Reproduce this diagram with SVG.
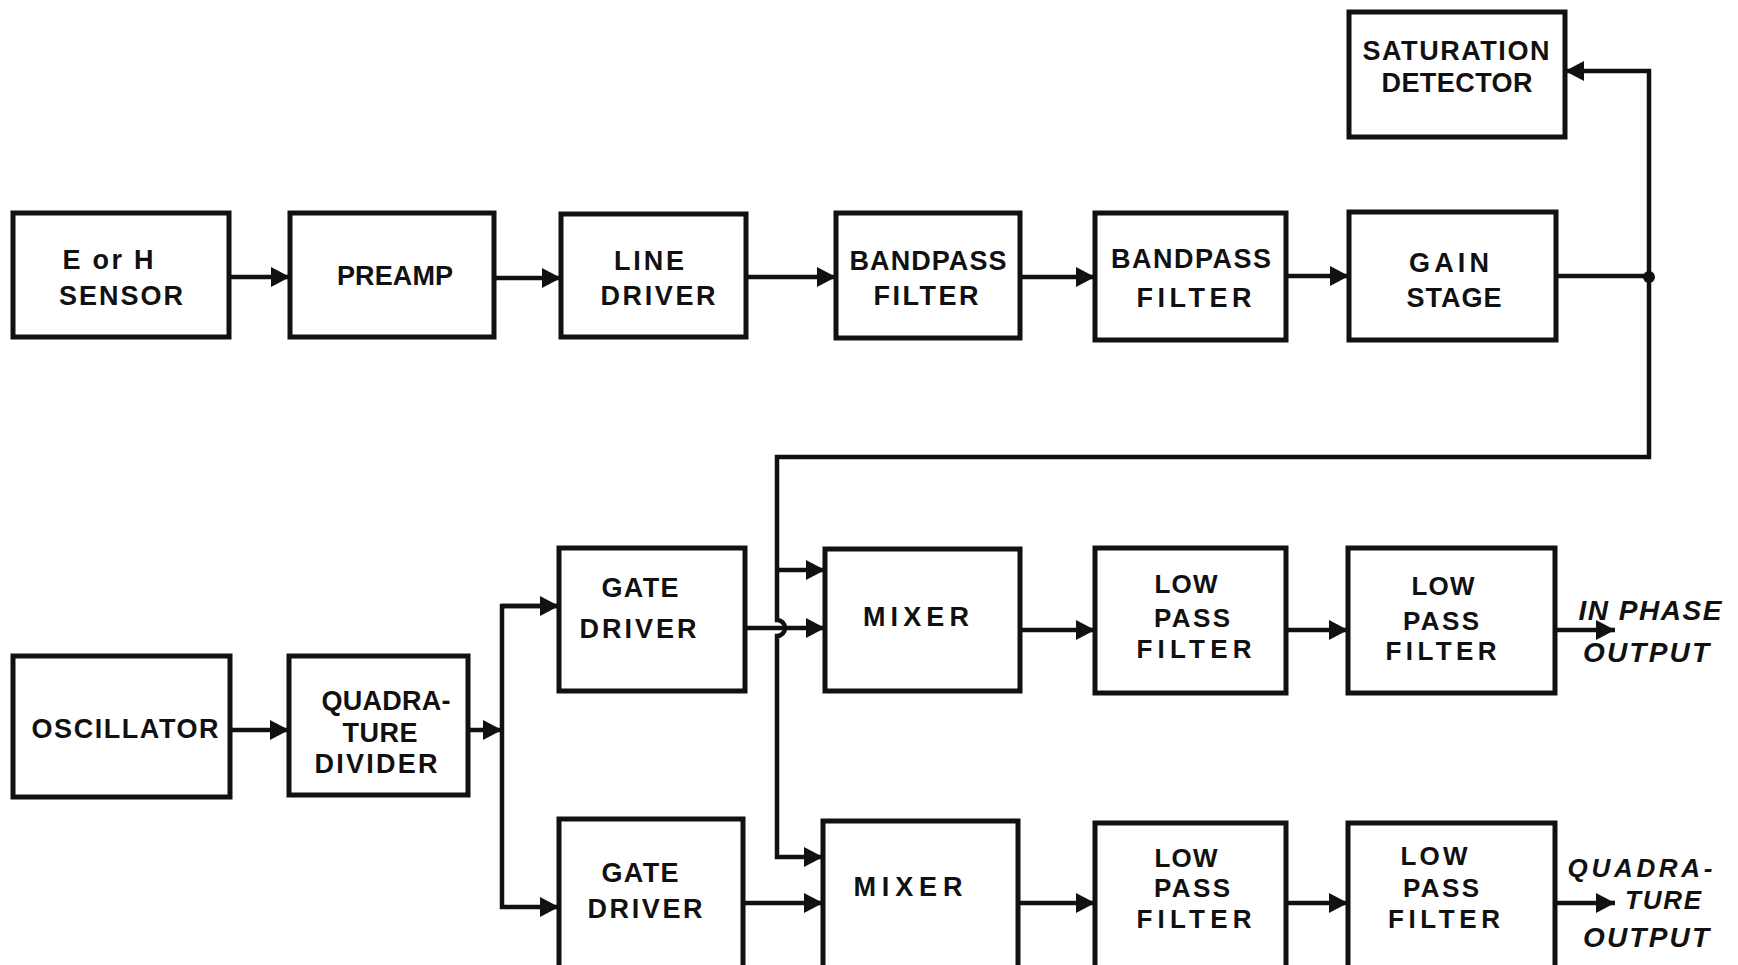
<svg xmlns="http://www.w3.org/2000/svg" width="1738" height="965" viewBox="0 0 1738 965">
<style>
.box{fill:#fff;stroke:#111;stroke-width:5}
.t{font-family:"Liberation Sans",Arial,sans-serif;font-weight:bold;font-size:27px;fill:#111;text-anchor:middle}
.s{font-size:26px}
.o{font-family:"Liberation Sans",Arial,sans-serif;font-weight:bold;font-style:italic;font-size:28px;fill:#111;text-anchor:middle}
.q{font-size:26px}
.w{fill:none;stroke:#111;stroke-width:4.5}
</style>
<defs>
<marker id="ah" markerUnits="userSpaceOnUse" markerWidth="21" markerHeight="21" refX="19" refY="10" orient="auto">
<path d="M0,0 L19,10 L0,20 z" fill="#111"/>
</marker>
</defs>
<rect width="1738" height="965" fill="#fff"/>
<g id="connectors">
<path class="w" d="M229,277 H290" marker-end="url(#ah)"/>
<path class="w" d="M494,278 H561" marker-end="url(#ah)"/>
<path class="w" d="M746,277 H836" marker-end="url(#ah)"/>
<path class="w" d="M1020,277 H1095" marker-end="url(#ah)"/>
<path class="w" d="M1286,276 H1349" marker-end="url(#ah)"/>
<path class="w" d="M1556,276 H1649"/>
<path class="w" d="M1649,277 V71 H1565" marker-end="url(#ah)"/>
<circle cx="1649" cy="277" r="6" fill="#111"/>
<path class="w" d="M1649,277 V457 H777 V620 A8,8 0 0 1 777,636 V857 H823" marker-end="url(#ah)"/>
<path class="w" d="M777,570 H825" marker-end="url(#ah)"/>
<path class="w" d="M745,628 H825" marker-end="url(#ah)"/>
<path class="w" d="M230,730 H289" marker-end="url(#ah)"/>
<path class="w" d="M468,730 H502" marker-end="url(#ah)"/>
<path class="w" d="M559,606 H502 V907 H559" marker-end="url(#ah)"/>
<path class="w" d="M502,606 H559" marker-end="url(#ah)"/>
<path class="w" d="M743,903 H823" marker-end="url(#ah)"/>
<path class="w" d="M1020,630 H1095" marker-end="url(#ah)"/>
<path class="w" d="M1286,630 H1348" marker-end="url(#ah)"/>
<path class="w" d="M1555,630 H1615" marker-end="url(#ah)"/>
<path class="w" d="M1018,903 H1095" marker-end="url(#ah)"/>
<path class="w" d="M1286,903 H1348" marker-end="url(#ah)"/>
<path class="w" d="M1555,903 H1615" marker-end="url(#ah)"/>
</g>
<g id="sensor"><rect class="box" x="13" y="213" width="216" height="124"/>
<text class="t" x="108" y="269" textLength="91" lengthAdjust="spacing">E or H</text>
<text class="t" x="121" y="305" textLength="124" lengthAdjust="spacing">SENSOR</text></g>
<g id="preamp"><rect class="box" x="290" y="213" width="204" height="124"/>
<text class="t" x="395" y="285" textLength="116" lengthAdjust="spacing">PREAMP</text></g>
<g id="line-driver"><rect class="box" x="561" y="214" width="185" height="123"/>
<text class="t" x="649" y="270" textLength="70" lengthAdjust="spacing">LINE</text>
<text class="t" x="658" y="305" textLength="115" lengthAdjust="spacing">DRIVER</text></g>
<g id="bandpass1"><rect class="box" x="836" y="213" width="184" height="125"/>
<text class="t" x="928" y="270" textLength="157" lengthAdjust="spacing">BANDPASS</text>
<text class="t" x="926" y="305" textLength="105" lengthAdjust="spacing">FILTER</text></g>
<g id="bandpass2"><rect class="box" x="1095" y="213" width="191" height="127"/>
<text class="t" x="1191" y="268" textLength="160" lengthAdjust="spacing">BANDPASS</text>
<text class="t" x="1194" y="307" textLength="115" lengthAdjust="spacing">FILTER</text></g>
<g id="gain-stage"><rect class="box" x="1349" y="212" width="207" height="128"/>
<text class="t" x="1449" y="272" textLength="80" lengthAdjust="spacing">GAIN</text>
<text class="t" x="1454" y="307" textLength="95" lengthAdjust="spacing">STAGE</text></g>
<g id="saturation-detector"><rect class="box" x="1349" y="12" width="216" height="125"/>
<text class="t" x="1456" y="60" textLength="187" lengthAdjust="spacing">SATURATION</text>
<text class="t" x="1457" y="92" textLength="151" lengthAdjust="spacing">DETECTOR</text></g>
<g id="oscillator"><rect class="box" x="13" y="656" width="217" height="141"/>
<text class="t" x="125" y="738" textLength="187" lengthAdjust="spacing">OSCILLATOR</text></g>
<g id="quadrature-divider"><rect class="box" x="289" y="656" width="179" height="139"/>
<text class="t" x="386" y="710" textLength="129" lengthAdjust="spacing">QUADRA-</text>
<text class="t" x="380" y="742" textLength="75" lengthAdjust="spacing">TURE</text>
<text class="t" x="376" y="773" textLength="123" lengthAdjust="spacing">DIVIDER</text></g>
<g id="gate-driver1"><rect class="box" x="559" y="548" width="186" height="143"/>
<text class="t" x="640" y="597" textLength="77" lengthAdjust="spacing">GATE</text>
<text class="t" x="638" y="638" textLength="117" lengthAdjust="spacing">DRIVER</text></g>
<g id="gate-driver2"><rect class="box" x="559" y="819" width="184" height="160"/>
<text class="t" x="640" y="882" textLength="77" lengthAdjust="spacing">GATE</text>
<text class="t" x="645" y="918" textLength="115" lengthAdjust="spacing">DRIVER</text></g>
<g id="mixer1"><rect class="box" x="825" y="549" width="195" height="142"/>
<text class="t" x="916" y="626" textLength="106" lengthAdjust="spacing">MIXER</text></g>
<g id="mixer2"><rect class="box" x="823" y="821" width="195" height="160"/>
<text class="t" x="908" y="896" textLength="109" lengthAdjust="spacing">MIXER</text></g>
<g id="lpf1a"><rect class="box" x="1095" y="548" width="191" height="145"/>
<text class="t s" x="1186" y="593" textLength="63" lengthAdjust="spacing">LOW</text>
<text class="t s" x="1192" y="627" textLength="76" lengthAdjust="spacing">PASS</text>
<text class="t s" x="1194" y="658" textLength="115" lengthAdjust="spacing">FILTER</text></g>
<g id="lpf1b"><rect class="box" x="1348" y="548" width="207" height="145"/>
<text class="t s" x="1443" y="595" textLength="63" lengthAdjust="spacing">LOW</text>
<text class="t s" x="1441" y="630" textLength="76" lengthAdjust="spacing">PASS</text>
<text class="t s" x="1441" y="660" textLength="111" lengthAdjust="spacing">FILTER</text></g>
<g id="lpf2a"><rect class="box" x="1095" y="823" width="191" height="160"/>
<text class="t s" x="1186" y="867" textLength="63" lengthAdjust="spacing">LOW</text>
<text class="t s" x="1192" y="897" textLength="76" lengthAdjust="spacing">PASS</text>
<text class="t s" x="1194" y="928" textLength="115" lengthAdjust="spacing">FILTER</text></g>
<g id="lpf2b"><rect class="box" x="1348" y="823" width="207" height="160"/>
<text class="t s" x="1434" y="865" textLength="67" lengthAdjust="spacing">LOW</text>
<text class="t s" x="1441" y="897" textLength="76" lengthAdjust="spacing">PASS</text>
<text class="t s" x="1444" y="928" textLength="112" lengthAdjust="spacing">FILTER</text></g>
<g id="in-phase-output">
<text class="o" x="1650" y="620" textLength="143" lengthAdjust="spacing">IN PHASE</text>
<text class="o" x="1646" y="662" textLength="126" lengthAdjust="spacing">OUTPUT</text></g>
<g id="quadrature-output">
<text class="o q" x="1640" y="877" textLength="145" lengthAdjust="spacing">QUADRA-</text>
<text class="o q" x="1663" y="909" textLength="76" lengthAdjust="spacing">TURE</text>
<text class="o" x="1646" y="947" textLength="126" lengthAdjust="spacing">OUTPUT</text></g>
</svg>
